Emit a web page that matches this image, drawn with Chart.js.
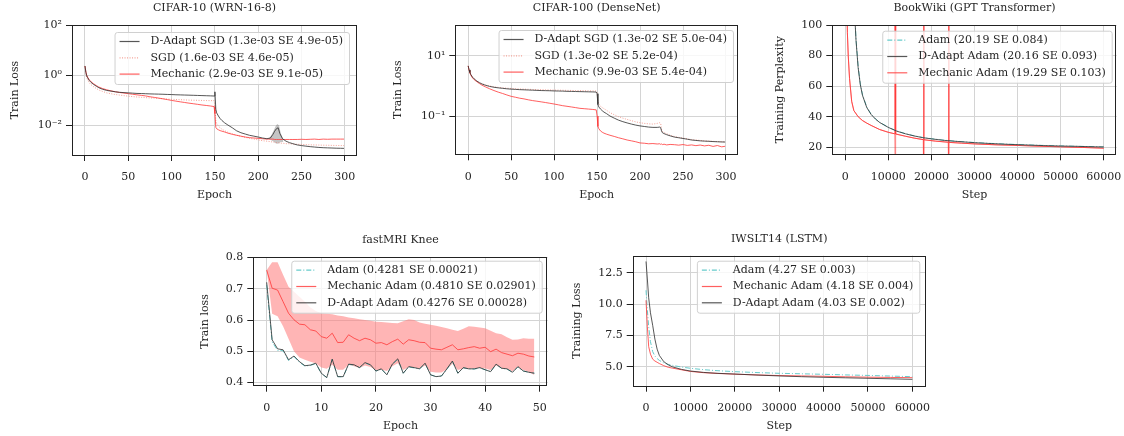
<!DOCTYPE html>
<html>
<head>
<meta charset="utf-8">
<script src="https://cdn.jsdelivr.net/npm/chart.js@4.4.1/dist/chart.umd.min.js"></script>
<style>
body { margin:0; background:#fff; width:1124px; height:436px; position:relative; overflow:hidden; }
canvas { position:absolute; }
</style>
</head>
<body>
<canvas id="c1" width="372" height="210" style="left:0px;top:0px"></canvas>
<canvas id="c2" width="380" height="210" style="left:372px;top:0px"></canvas>
<canvas id="c3" width="372" height="210" style="left:752px;top:0px"></canvas>
<canvas id="c4" width="380" height="218" style="left:180px;top:218px"></canvas>
<canvas id="c5" width="380" height="218" style="left:560px;top:218px"></canvas>
<script>
// ---- CIFAR-10 (WRN-16-8) ----
var c10Epoch = [0, 1, 2, 3, 5, 7, 10, 13, 16, 20,
  25, 30, 35, 40, 45, 50, 55, 60, 65, 70, 75, 80, 85, 90, 95, 100, 105, 110, 115, 120, 125, 130, 135, 140, 145,
  149, 150, 151, 152, 154, 156, 158, 161, 165,
  170, 175, 180, 185, 190, 195, 200, 205, 210,
  214, 217, 219, 221, 223, 225, 228, 232, 236,
  240, 245, 250, 255, 260, 265, 270, 275, 280, 285, 290, 295, 299];
var c10DAdapt = [2.35, 1.30, 0.95, 0.80, 0.62, 0.52, 0.43, 0.37, 0.32, 0.28,
  0.25, 0.235, 0.22, 0.21, 0.205, 0.20, 0.195, 0.19, 0.188, 0.185,
  0.182, 0.18, 0.178, 0.176, 0.173, 0.171, 0.168, 0.166, 0.164, 0.162,
  0.160, 0.158, 0.156, 0.154, 0.152,
  0.150, 0.22, 0.045, 0.032, 0.024, 0.019, 0.016, 0.013, 0.0105,
  0.0082, 0.0062, 0.0052, 0.0046, 0.0041, 0.0038, 0.0035, 0.0032, 0.0030,
  0.0032, 0.0045, 0.0060, 0.0075, 0.0082, 0.0048, 0.0030, 0.0024, 0.0021,
  0.0019, 0.0017, 0.0016, 0.00152, 0.00145, 0.0014, 0.00135, 0.00132, 0.0013, 0.00128, 0.00126, 0.00125, 0.00124];
var c10SGD = [2.30, 1.10, 0.80, 0.65, 0.50, 0.42, 0.35, 0.30, 0.26, 0.23,
  0.20, 0.185, 0.172, 0.163, 0.155, 0.148, 0.142, 0.137, 0.133, 0.129,
  0.126, 0.123, 0.12, 0.117, 0.114, 0.111, 0.109, 0.107, 0.105, 0.103,
  0.102, 0.101, 0.100, 0.099, 0.098,
  0.098, 0.060, 0.016, 0.012, 0.0095, 0.0082, 0.0072, 0.0063, 0.0054,
  0.0047, 0.0042, 0.0037, 0.0034, 0.0031, 0.0029, 0.0027, 0.0025, 0.0024,
  0.0023, 0.0022, 0.0022, 0.0021, 0.0021, 0.0020, 0.0020, 0.0019, 0.0019,
  0.00185, 0.0018, 0.00178, 0.00175, 0.00172, 0.0017, 0.00168, 0.00166, 0.00165, 0.00163, 0.00162, 0.0016, 0.0016];
var c10Mech = [2.30, 1.40, 1.00, 0.85, 0.66, 0.55, 0.46, 0.39, 0.34, 0.30,
  0.265, 0.24, 0.222, 0.207, 0.196, 0.186, 0.176, 0.167, 0.159, 0.151,
  0.140, 0.132, 0.124, 0.116, 0.108, 0.100, 0.094, 0.088, 0.083, 0.078,
  0.074, 0.070, 0.066, 0.063, 0.060,
  0.057, 0.030, 0.0085, 0.0075, 0.0068, 0.0063, 0.0060, 0.0056, 0.0050,
  0.0045, 0.0041, 0.0038, 0.0035, 0.0033, 0.0032, 0.0031, 0.0030, 0.0029,
  0.0029, 0.0029, 0.0028, 0.0028, 0.0028, 0.0028, 0.0028, 0.0028, 0.0028,
  0.0028, 0.0028, 0.00285, 0.0028, 0.00285, 0.0029, 0.0028, 0.0029, 0.00285, 0.0029, 0.0029, 0.0029, 0.0029];
// spread of the D-Adapt runs around the bump near epoch 222
var c10SpikeEpoch = [212, 215, 218, 220, 222, 224, 226, 229];
var c10SpikeLo = [0.0029, 0.0026, 0.0023, 0.0020, 0.0019, 0.0020, 0.0022, 0.0022];
var c10SpikeHi = [0.0030, 0.0040, 0.0065, 0.0095, 0.0115, 0.0100, 0.0050, 0.0028];

// ---- CIFAR-100 (DenseNet) ----
var c100Epoch = [0, 1, 2, 3, 5, 7, 10, 13, 16, 20,
  25, 30, 35, 40, 45, 50, 55, 60, 65, 70, 75, 80, 85, 90, 95, 100, 105, 110, 115, 120, 125, 130, 135, 140, 145,
  149, 150, 151, 152, 154, 156, 158, 161, 165,
  170, 175, 180, 185, 190, 195, 200, 205, 210, 215, 220,
  223, 224, 225, 226, 228, 231, 235,
  240, 245, 250, 255, 260, 265, 270, 275, 280, 285, 290, 295, 299];
var c100DAdapt = [4.6, 3.4, 2.8, 2.4, 1.95, 1.7, 1.45, 1.28, 1.16, 1.05,
  0.96, 0.90, 0.86, 0.83, 0.80, 0.78, 0.765, 0.75, 0.74, 0.73,
  0.72, 0.71, 0.70, 0.695, 0.69, 0.68, 0.675, 0.67, 0.66, 0.655,
  0.65, 0.645, 0.64, 0.635, 0.63,
  0.625, 0.55, 0.24, 0.20, 0.17, 0.15, 0.135, 0.12, 0.10,
  0.085, 0.073, 0.065, 0.059, 0.054, 0.050, 0.047, 0.045, 0.043, 0.042, 0.042,
  0.043, 0.041, 0.032, 0.028, 0.026, 0.024, 0.022,
  0.020, 0.019, 0.018, 0.017, 0.016, 0.0155, 0.015, 0.0147, 0.0145, 0.0142, 0.014, 0.0138, 0.0137];
var c100SGD = [4.6, 3.3, 2.7, 2.35, 1.92, 1.68, 1.45, 1.29, 1.18, 1.08,
  0.99, 0.93, 0.89, 0.86, 0.84, 0.82, 0.805, 0.79, 0.78, 0.77,
  0.76, 0.75, 0.745, 0.74, 0.73, 0.725, 0.72, 0.715, 0.71, 0.705,
  0.70, 0.695, 0.69, 0.685, 0.68,
  0.675, 0.60, 0.30, 0.25, 0.21, 0.19, 0.175, 0.155, 0.13,
  0.11, 0.095, 0.085, 0.077, 0.070, 0.064, 0.060, 0.057, 0.055, 0.054, 0.057,
  0.060, 0.058, 0.036, 0.031, 0.028, 0.026, 0.023,
  0.021, 0.0195, 0.0185, 0.0175, 0.0165, 0.016, 0.0155, 0.015, 0.0147, 0.0144, 0.0142, 0.014, 0.0139];
var c100Mech = [4.6, 3.3, 2.7, 2.3, 1.85, 1.6, 1.38, 1.20, 1.06, 0.93,
  0.80, 0.70, 0.62, 0.56, 0.50, 0.45, 0.42, 0.39, 0.37, 0.345,
  0.325, 0.31, 0.295, 0.28, 0.265, 0.25, 0.235, 0.22, 0.21, 0.20,
  0.19, 0.18, 0.175, 0.17, 0.165,
  0.16, 0.10, 0.045, 0.038, 0.032, 0.029, 0.027, 0.025, 0.023,
  0.021, 0.019, 0.0175, 0.016, 0.015, 0.014, 0.0128, 0.0125, 0.012, 0.0122, 0.0118,
  0.012, 0.0115, 0.0118, 0.0113, 0.0116, 0.011, 0.0114,
  0.0112, 0.0108, 0.0113, 0.0106, 0.011, 0.0104, 0.0109, 0.0102, 0.0107, 0.0098, 0.0105, 0.0095, 0.0099];

// ---- BookWiki (GPT Transformer) ----
var bwStep = [1000, 1500, 2000, 2500, 3000, 3500, 4000, 5000, 6000, 7000, 8000, 10000, 12000, 14000,
  16000, 18000, 20000, 23000, 26000, 30000, 34000, 38000, 42000, 46000, 50000, 54000, 58000, 60000];
var bwAdam = [410, 205, 120, 91, 73, 61.5, 54.5, 46.3, 41.7, 38.6, 36.3, 33.1, 30.6, 28.9,
  27.5, 26.4, 25.6, 24.6, 23.9, 23.1, 22.5, 22.0, 21.6, 21.2, 20.9, 20.6, 20.35, 20.2];
var bwDAdapt = [400, 200, 118, 90, 72, 61, 54, 46, 41.5, 38.5, 36.2, 33.0, 30.5, 28.8,
  27.4, 26.3, 25.5, 24.5, 23.8, 23.0, 22.4, 21.9, 21.5, 21.1, 20.8, 20.6, 20.3, 20.2];
var bwMechStep = [300, 500, 700, 1000, 1500, 2000, 3000, 4000, 5000, 6000, 8000, 10000,
  11500, 11600, 11700, 14000, 16000, 18100, 18200, 18300, 21000, 23900, 24000, 24100,
  27000, 30000, 35000, 40000, 45000, 50000, 55000, 60000];
var bwMech = [130, 95, 80, 65, 50, 44, 40, 37.5, 35.8, 34.3, 31.6, 29.8,
  28.8, 3000, 28.7, 27.2, 26.0, 25.0, 3000, 24.9, 24.0, 23.3, 3000, 23.2,
  22.7, 22.2, 21.6, 21.2, 20.7, 20.3, 19.9, 19.4];
// lower edge of the spread (the loss spikes blow it up)
var bwMechLo = [130, 95, 80, 65, 50, 44, 40, 37.5, 35.8, 34.3, 31.6, 29.8,
  28.8, 0, 28.7, 27.2, 26.0, 25.0, 0, 24.9, 24.0, 23.3, 0, 23.2,
  22.7, 22.2, 21.6, 21.2, 20.7, 20.3, 19.9, 19.4];

// ---- fastMRI Knee ----
var mriEpoch = [0, 1, 2, 3, 4, 5, 6, 7, 8, 9, 10, 11, 12, 13, 14, 15, 16, 17, 18, 19, 20, 21, 22, 23, 24,
  25, 26, 27, 28, 29, 30, 31, 32, 33, 34, 35, 36, 37, 38, 39, 40, 41, 42, 43, 44, 45, 46, 47, 48, 49];
var mriAdam = [0.712, 0.530, 0.503, 0.502, 0.471, 0.483, 0.465, 0.453, 0.455, 0.461,
  0.429, 0.416, 0.474, 0.419, 0.418, 0.458, 0.456, 0.448, 0.463, 0.456,
  0.437, 0.443, 0.425, 0.458, 0.475, 0.430, 0.450, 0.447, 0.444, 0.461,
  0.425, 0.419, 0.421, 0.443, 0.468, 0.430, 0.447, 0.444, 0.443, 0.447,
  0.441, 0.435, 0.458, 0.446, 0.443, 0.433, 0.450, 0.437, 0.433, 0.430];
var mriMech = [0.760, 0.702, 0.696, 0.659, 0.622, 0.601, 0.587, 0.585, 0.569, 0.565,
  0.547, 0.542, 0.558, 0.528, 0.529, 0.553, 0.542, 0.534, 0.542, 0.537,
  0.526, 0.528, 0.521, 0.531, 0.539, 0.523, 0.537, 0.534, 0.529, 0.528,
  0.510, 0.507, 0.505, 0.513, 0.521, 0.505, 0.508, 0.512, 0.515, 0.510,
  0.513, 0.499, 0.507, 0.496, 0.491, 0.486, 0.494, 0.491, 0.485, 0.482];
var mriMechHi = [0.760, 0.785, 0.785, 0.745, 0.707, 0.691, 0.675, 0.659, 0.640, 0.629,
  0.622, 0.620, 0.619, 0.615, 0.612, 0.608, 0.606, 0.603, 0.600, 0.598,
  0.595, 0.594, 0.592, 0.591, 0.590, 0.596, 0.603, 0.600, 0.592, 0.588,
  0.585, 0.582, 0.578, 0.574, 0.569, 0.565, 0.572, 0.580, 0.579, 0.576,
  0.574, 0.566, 0.558, 0.555, 0.545, 0.537, 0.538, 0.542, 0.540, 0.540];
var mriMechLo = [0.760, 0.620, 0.612, 0.580, 0.540, 0.500, 0.480, 0.473, 0.467, 0.462,
  0.448, 0.444, 0.457, 0.441, 0.441, 0.457, 0.452, 0.447, 0.455, 0.450,
  0.440, 0.442, 0.437, 0.452, 0.462, 0.440, 0.450, 0.448, 0.445, 0.455,
  0.435, 0.432, 0.432, 0.443, 0.460, 0.440, 0.445, 0.444, 0.446, 0.447,
  0.445, 0.440, 0.455, 0.445, 0.444, 0.436, 0.450, 0.440, 0.434, 0.424];
var mriDAdapt = [0.721, 0.537, 0.508, 0.505, 0.473, 0.485, 0.467, 0.454, 0.456, 0.462,
  0.430, 0.416, 0.475, 0.419, 0.419, 0.459, 0.457, 0.448, 0.464, 0.457,
  0.437, 0.444, 0.425, 0.459, 0.476, 0.430, 0.451, 0.448, 0.444, 0.462,
  0.425, 0.419, 0.421, 0.444, 0.469, 0.430, 0.448, 0.444, 0.444, 0.448,
  0.441, 0.435, 0.459, 0.446, 0.444, 0.433, 0.451, 0.437, 0.433, 0.430];

// ---- IWSLT14 (LSTM) ----
var iwStep = [0, 300, 600, 1000, 1500, 2000, 2500, 3000, 4000, 5000, 6000, 8000,
  10000, 13000, 16000, 20000, 25000, 30000, 35000, 40000, 45000, 50000, 55000, 60000];
var iwAdam = [11.1, 9.5, 8.2, 7.0, 6.2, 5.85, 5.65, 5.5, 5.3, 5.18, 5.1, 4.97,
  4.87, 4.76, 4.68, 4.6, 4.53, 4.47, 4.43, 4.39, 4.34, 4.3, 4.25, 4.2];
var iwMech = [10.3, 8.2, 6.6, 6.0, 5.6, 5.45, 5.35, 5.25, 5.08, 4.95, 4.88, 4.75,
  4.62, 4.52, 4.46, 4.4, 4.34, 4.29, 4.26, 4.23, 4.19, 4.16, 4.14, 4.12];
var iwDAdapt = [13.4, 12.0, 10.5, 9.3, 8.3, 7.2, 6.4, 5.9, 5.4, 5.15, 4.98, 4.78,
  4.65, 4.54, 4.47, 4.41, 4.33, 4.26, 4.2, 4.15, 4.11, 4.07, 4.03, 3.99];

// tick positions
var epochTicks300 = [0, 50, 100, 150, 200, 250, 300];
var epochTicks50 = [0, 10, 20, 30, 40, 50];
var stepTicks = [0, 10000, 20000, 30000, 40000, 50000, 60000];
var c10YTicks = [1e-2, 1, 1e2];
var c100YTicks = [1e-1, 1e1];
var bwYTicks = [20, 40, 60, 80, 100];
var mriYTicks = [0.4, 0.5, 0.6, 0.7, 0.8];
var iwYTicks = [5.0, 7.5, 10.0, 12.5];

// legend labels
var c10Labels = ["D-Adapt SGD (1.3e-03 SE 4.9e-05)", "SGD (1.6e-03 SE 4.6e-05)", "Mechanic (2.9e-03 SE 9.1e-05)"];
var c100Labels = ["D-Adapt SGD (1.3e-02 SE 5.0e-04)", "SGD (1.3e-02 SE 5.2e-04)", "Mechanic (9.9e-03 SE 5.4e-04)"];
var bwLabels = ["Adam (20.19 SE 0.084)", "D-Adapt Adam (20.16 SE 0.093)", "Mechanic Adam (19.29 SE 0.103)"];
var mriLabels = ["Adam (0.4281 SE 0.00021)", "Mechanic Adam (0.4810 SE 0.02901)", "D-Adapt Adam (0.4276 SE 0.00028)"];
var iwLabels = ["Adam (4.27 SE 0.003)", "Mechanic Adam (4.18 SE 0.004)", "D-Adapt Adam (4.03 SE 0.002)"];

const FONT = "'DejaVu Serif', serif";
const TXT = "#262626";
const BLACK = "rgba(45,45,45,0.8)";
const RED = "rgba(255,55,55,0.8)";
const SALMON = "rgba(240,130,115,0.75)";
const CYAN = "rgba(95,200,200,0.95)";

Chart.defaults.font.family = FONT;
Chart.defaults.font.size = 11;
Chart.defaults.color = TXT;

function pts(xs, ys) {
    return xs.map((x, i) => ({x: x, y: ys[i]}));
}

function sup(n) {
    var m = {"-": "\u207B", "0": "\u2070", "1": "\u00B9", "2": "\u00B2", "3": "\u00B3"};
    return String(n).split("").map(c => m[c]).join("");
}

function line(label, xs, ys, color, dash, extra) {
    var d = {
        label: label,
        data: pts(xs, ys),
        borderColor: color,
        backgroundColor: color,
        borderWidth: 1,
        borderDash: dash || [],
        pointRadius: 0,
        fill: false
    };
    return Object.assign(d, extra || {});
}

// spines, title and the matplotlib-ish legend
const framePlugin = {
    id: "frame",
    afterDraw(chart, args, opts) {
        const ctx = chart.ctx;
        const a = chart.chartArea;
        ctx.save();
        ctx.strokeStyle = "#222";
        ctx.lineWidth = 1;
        ctx.strokeRect(Math.round(a.left) + 0.5, Math.round(a.top) + 0.5,
            Math.round(a.right - a.left) - 1, Math.round(a.bottom - a.top));

        ctx.fillStyle = TXT;
        ctx.font = "11px " + FONT;
        ctx.textAlign = "center";
        ctx.textBaseline = "middle";
        ctx.fillText(opts.title, (a.left + a.right) / 2, a.top - 17);

        // legend
        var items = opts.legend.map(l => chart.data.datasets.find(d => d.label == l));
        var tw = 0;
        items.forEach(d => { tw = Math.max(tw, ctx.measureText(d.label).width); });
        var w = 5 + 20 + 11 + tw + 6;
        var h = 52;
        var x0 = a.right - opts.lgRight - w;
        var y0 = a.top + opts.lgTop;
        ctx.beginPath();
        ctx.roundRect(x0 + 0.5, y0 + 0.5, w, h, 2.5);
        ctx.fillStyle = "rgba(255,255,255,0.8)";
        ctx.fill();
        ctx.strokeStyle = "#d0d0d0";
        ctx.stroke();
        ctx.textAlign = "left";
        items.forEach((d, i) => {
            var yy = y0 + 9.5 + i * 16.3;
            ctx.beginPath();
            ctx.strokeStyle = d.borderColor;
            ctx.lineWidth = 1.2;
            ctx.setLineDash(d.borderDash);
            ctx.moveTo(x0 + 5, yy);
            ctx.lineTo(x0 + 25, yy);
            ctx.stroke();
            ctx.setLineDash([]);
            ctx.fillStyle = TXT;
            ctx.fillText(d.label, x0 + 36, yy);
        });
        ctx.restore();
    }
};

function panel(id, o) {
    var lh = 11 * 1.2;
    var logY = o.yType == "logarithmic";
    return new Chart(document.getElementById(id), {
        type: "line",
        data: {datasets: o.datasets},
        options: {
            responsive: false,
            animation: false,
            events: [],
            layout: {padding: {top: o.padTop, right: o.padRight, left: 0, bottom: 0}},
            plugins: {
                legend: {display: false},
                tooltip: {enabled: false},
                frame: {title: o.title, legend: o.legend, lgRight: o.lgRight, lgTop: o.lgTop}
            },
            scales: {
                x: {
                    type: "linear",
                    min: o.xMin, max: o.xMax,
                    afterBuildTicks: s => { s.ticks = o.xTicks.map(v => ({value: v})); },
                    afterFit: s => { s.height = o.xH; s.paddingLeft = 0; s.paddingRight = 0; },
                    border: {display: false},
                    grid: {color: "#d4d4d4", lineWidth: 1, tickColor: "#222", tickLength: 6, drawTicks: true},
                    ticks: {padding: 10, maxRotation: 0, autoSkip: false, color: TXT, font: {size: 11},
                        callback: v => String(v)},
                    title: {display: true, text: o.xTitle, color: TXT, font: {size: 11},
                        padding: {top: 0, bottom: o.xTitleBottom - lh / 2}}
                },
                y: {
                    type: o.yType,
                    min: o.yMin, max: o.yMax,
                    afterBuildTicks: s => { s.ticks = o.yTicks.map(v => ({value: v})); },
                    afterFit: s => { s.width = o.yW; s.paddingTop = 0; s.paddingBottom = 0; },
                    border: {display: false},
                    grid: {color: "#d4d4d4", lineWidth: 1, tickColor: "#222", tickLength: 6, drawTicks: true},
                    ticks: {
                        padding: 4, autoSkip: false, color: TXT, font: {size: 11},
                        callback: v => logY ? "10" + sup(Math.round(Math.log10(v))) : o.yFmt(v)
                    },
                    title: {display: true, text: o.yTitle, color: TXT, font: {size: 11},
                        padding: {top: o.yTitleX - lh / 2, bottom: 0}}
                }
            }
        },
        plugins: [framePlugin]
    });
}

// CIFAR-10
panel("c1", {
    title: "CIFAR-10 (WRN-16-8)",
    datasets: [
        line(c10Labels[0], c10Epoch, c10DAdapt, BLACK),
        line(c10Labels[2], c10Epoch, c10Mech, RED),
        line(c10Labels[1], c10Epoch, c10SGD, SALMON, [1, 1.5]),
        line("_lo", c10SpikeEpoch, c10SpikeLo, "rgba(0,0,0,0)", [], {borderWidth: 0}),
        line("_hi", c10SpikeEpoch, c10SpikeHi, "rgba(0,0,0,0)", [], {borderWidth: 0, fill: "-1", backgroundColor: "rgba(90,90,90,0.35)"})
    ],
    legend: c10Labels, lgRight: 8, lgTop: 7,
    padTop: 25, padRight: 15, yW: 72, xH: 55,
    xMin: -15, xMax: 314, xTicks: epochTicks300, xTitle: "Epoch", xTitleBottom: 14.5,
    yType: "logarithmic", yMin: Math.pow(10, -3.17), yMax: 100, yTicks: c10YTicks,
    yTitle: "Train Loss", yTitleX: 15
});

// CIFAR-100
panel("c2", {
    title: "CIFAR-100 (DenseNet)",
    datasets: [
        line(c100Labels[0], c100Epoch, c100DAdapt, BLACK),
        line(c100Labels[2], c100Epoch, c100Mech, RED),
        line(c100Labels[1], c100Epoch, c100SGD, SALMON, [1, 1.5])
    ],
    legend: c100Labels, lgRight: 5, lgTop: 5,
    padTop: 25, padRight: 14, yW: 83.3, xH: 55.7,
    xMin: -15, xMax: 314, xTicks: epochTicks300, xTitle: "Epoch", xTitleBottom: 14.5,
    yType: "logarithmic", yMin: Math.pow(10, -2.27), yMax: Math.pow(10, 2.02), yTicks: c100YTicks,
    yTitle: "Train Loss", yTitleX: 26.3
});

// BookWiki
panel("c3", {
    title: "BookWiki (GPT Transformer)",
    datasets: [
        line(bwLabels[1], bwStep, bwDAdapt, BLACK),
        line(bwLabels[0], bwStep, bwAdam, CYAN, [5, 2, 1, 2]),
        line("_mechlo", bwMechStep, bwMechLo, "rgba(255,55,55,0.55)"),
        line(bwLabels[2], bwMechStep, bwMech, RED)
    ],
    legend: bwLabels, lgRight: 5, lgTop: 5.7,
    padTop: 25, padRight: 7.3, yW: 80.3, xH: 55.7,
    xMin: -3000, xMax: 63000, xTicks: stepTicks, xTitle: "Step", xTitleBottom: 14.5,
    yType: "linear", yMin: 15.4, yMax: 100, yTicks: bwYTicks, yFmt: v => String(v),
    yTitle: "Training Perplexity", yTitleX: 28
});

// fastMRI
panel("c4", {
    title: "fastMRI Knee",
    datasets: [
        line(mriLabels[2], mriEpoch, mriDAdapt, BLACK),
        line(mriLabels[0], mriEpoch, mriAdam, CYAN, [5, 2, 1, 2]),
        line(mriLabels[1], mriEpoch, mriMech, RED),
        line("_lo", mriEpoch, mriMechLo, "rgba(0,0,0,0)", [], {borderWidth: 0}),
        line("_hi", mriEpoch, mriMechHi, "rgba(0,0,0,0)", [], {borderWidth: 0, fill: "-1", backgroundColor: "rgba(255,120,120,0.55)"})
    ],
    legend: mriLabels, lgRight: 6, lgTop: 3.4,
    padTop: 39.3, padRight: 12.3, yW: 73.3, xH: 50.3,
    xMin: -2.45, xMax: 51.45, xTicks: epochTicks50, xTitle: "Epoch", xTitleBottom: 9.5,
    yType: "linear", yMin: 0.39, yMax: 0.801, yTicks: mriYTicks, yFmt: v => v.toFixed(1),
    yTitle: "Train loss", yTitleX: 25
});

// IWSLT14
panel("c5", {
    title: "IWSLT14 (LSTM)",
    datasets: [
        line(iwLabels[2], iwStep, iwDAdapt, BLACK),
        line(iwLabels[1], iwStep, iwMech, RED),
        line(iwLabels[0], iwStep, iwAdam, CYAN, [5, 2, 1, 2])
    ],
    legend: iwLabels, lgRight: 6.4, lgTop: 5,
    padTop: 37.7, padRight: 14.3, yW: 72.7, xH: 50.3,
    xMin: -3000, xMax: 63000, xTicks: stepTicks, xTitle: "Step", xTitleBottom: 9.5,
    yType: "linear", yMin: 3.48, yMax: 13.86, yTicks: iwYTicks, yFmt: v => v.toFixed(1),
    yTitle: "Training Loss", yTitleX: 16.7
});
</script>
</body>
</html>
